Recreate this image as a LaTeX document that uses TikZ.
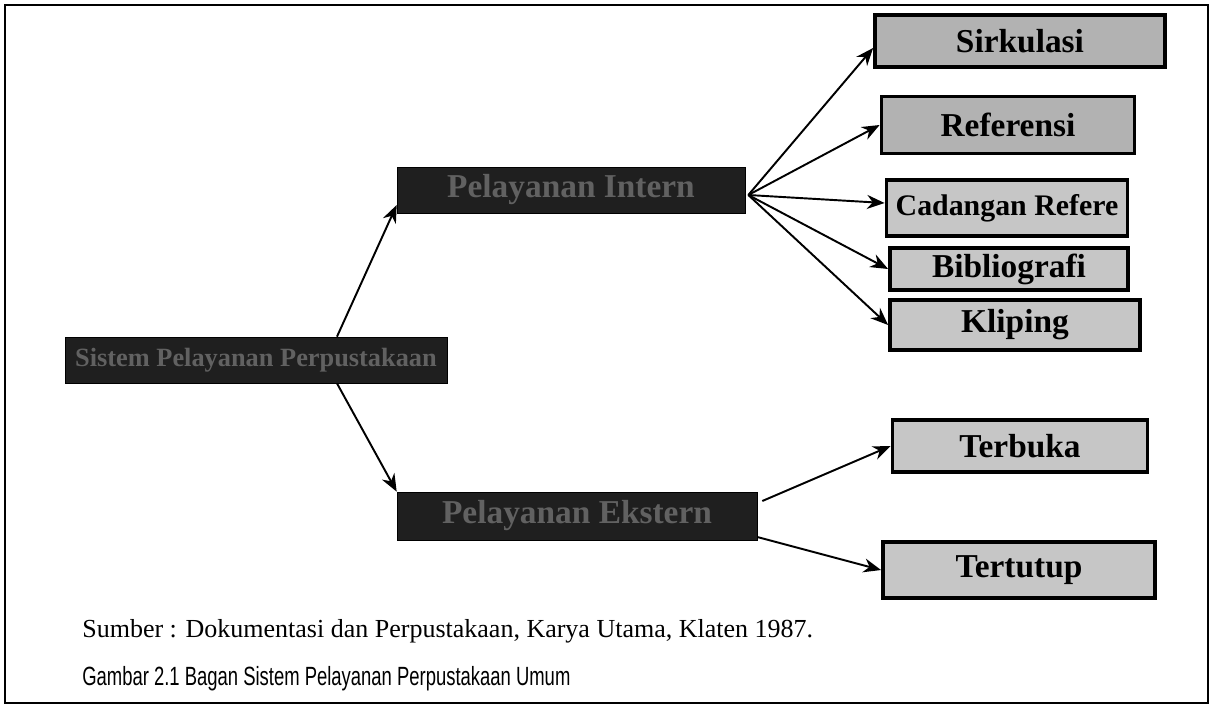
\documentclass[tikz,border=0pt]{standalone}
\usepackage{fontspec}
\setmainfont{Liberation Serif}
\newfontfamily\capfont{Liberation Sans}
\usetikzlibrary{arrows.meta}

\tikzset{
  gelap/.style={draw=black, fill=black!88, text=black!62, font=\bfseries\fontsize{19}{21}\selectfont, inner sep=0pt},
  terang/.style={draw=black, line width=2.2pt, fill=gray!45, font=\bfseries\fontsize{19}{21}\selectfont, inner sep=0pt},
  panah/.style={-{Stealth[length=10pt,width=8pt]}, line width=1.1pt}
}

\begin{document}
\begin{tikzpicture}[x=0.02cm, y=-0.02cm]
    \useasboundingbox (0,0) rectangle (1215,708);
    \draw[line width=1.6pt] (5,5) rectangle (1208,703);

    % bagan kiri dan tengah
    \node[gelap, font=\bfseries\fontsize{15}{17}\selectfont, minimum width=7.64cm, minimum height=0.92cm] (kiri) at (256,360) {Sistem Pelayanan Perpustakaan};
    \node[gelap, minimum width=6.96cm, minimum height=0.92cm] (intern) at (571,190) {Pelayanan Intern};
    \node[gelap, minimum width=7.2cm, minimum height=0.96cm] (ekstern) at (577,516) {Pelayanan Ekstern};

    % bagan kanan
    \node[terang, fill=gray!60, minimum width=5.8cm, minimum height=1.04cm] (sirkulasi) at (1020,41) {Sirkulasi};
    \node[terang, fill=gray!60, minimum width=5.06cm, minimum height=1.14cm] (referensi) at (1008,125) {Referensi};
    \node[terang, font=\bfseries\fontsize{17}{19}\selectfont, minimum width=4.82cm, minimum height=1.12cm] (cadangan) at (1007,208) {Cadangan Refere};
    \node[terang, minimum width=4.76cm, minimum height=0.84cm] (biblio) at (1009,269) {Bibliografi};
    \node[terang, minimum width=5.0cm, minimum height=1.0cm] (kliping) at (1015,325) {Kliping};
    \node[terang, minimum width=5.1cm, minimum height=1.04cm] (terbuka) at (1020,446) {Terbuka};
    \node[terang, minimum width=5.44cm, minimum height=1.12cm] (tertutup) at (1019,570) {Tertutup};

    \draw[panah] ([xshift=1.62cm]kiri.north) -- ([yshift=-0.3cm]intern.west);
    \draw[panah] ([xshift=1.62cm]kiri.south) -- (ekstern.north west);

    \coordinate (pusat) at ([xshift=0.06cm,yshift=-0.1cm]intern.east);
    \draw[panah] (pusat) -- ([yshift=-0.14cm]sirkulasi.west);
    \draw[panah] (pusat) -- (referensi.west);
    \draw[panah] (pusat) -- ([yshift=0.1cm]cadangan.west);
    \draw[panah] (pusat) -- (biblio.west);
    \draw[panah] (pusat) -- (kliping.west);

    \draw[panah] ([xshift=0.1cm,yshift=0.3cm]ekstern.east) -- (terbuka.west);
    \draw[panah] ([yshift=-0.42cm]ekstern.east) -- (tertutup.west);

    % sumber dan judul gambar
    \node[anchor=base west, inner sep=0pt, font=\fontsize{14.8}{17}\selectfont] (sumber) at (82,637) {Sumber : Dokumentasi dan Perpustakaan, Karya Utama, Klaten 1987.};
    \node[anchor=base west, inner sep=0pt, font=\capfont\fontsize{15}{17}\selectfont] (judul) at (82,685) {\scalebox{0.7}[1]{Gambar 2.1 Bagan Sistem Pelayanan Perpustakaan Umum}};
\end{tikzpicture}
\end{document}
